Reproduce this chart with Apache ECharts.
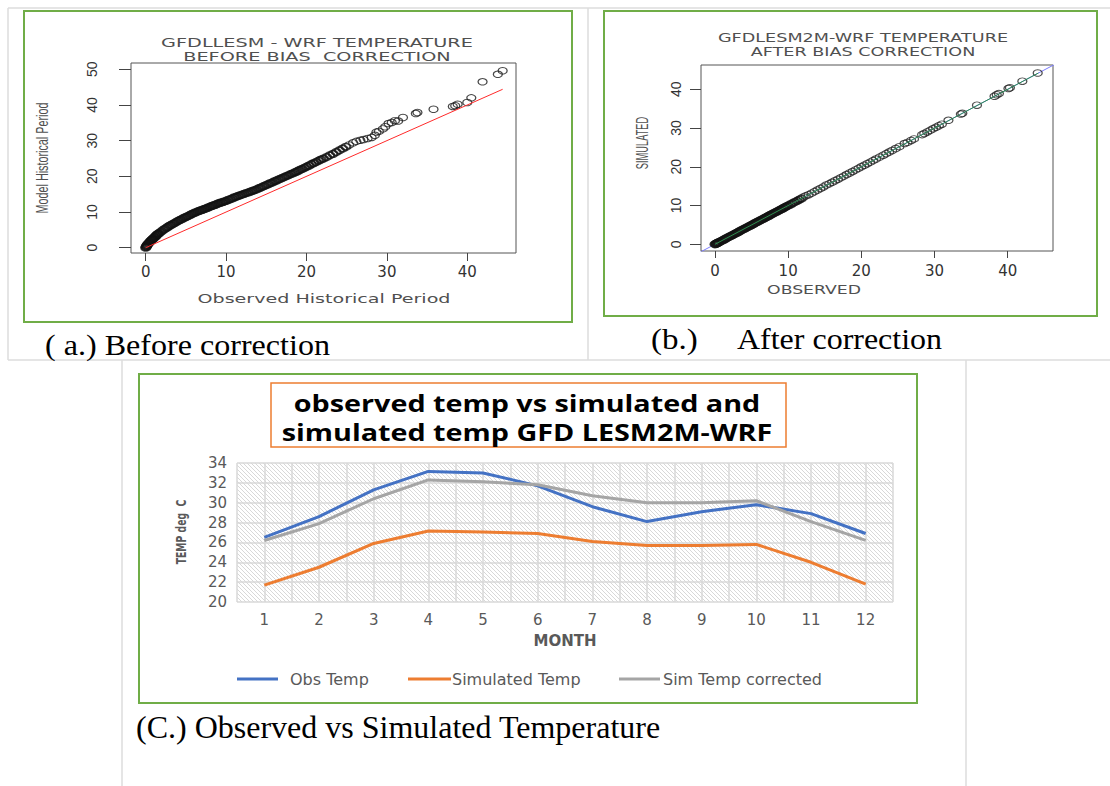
<!DOCTYPE html>
<html>
<head>
<meta charset="utf-8">
<title>Temperature bias correction</title>
<script src="https://cdn.jsdelivr.net/npm/echarts@6/dist/echarts.min.js"></script>
<style>
  html, body { margin: 0; padding: 0; background: #ffffff; }
  #main { width: 1110px; height: 786px; }
</style>
</head>
<body>
<div id="main"></div>
<script>
// ---------- (a) Q-Q pairs before bias correction: [observed, model] ----------
const beforePairs = [
  [0,0],[0.05,0.2],[0.1,0.4],[0.15,0.6],[0.2,0.8],[0.3,1.1],[0.4,1.3],[0.5,1.6],[0.6,1.9],[0.7,2.1],
  [0.8,2.3],[0.9,2.5],[1.0,2.7],[1.1,2.9],[1.2,3.1],[1.3,3.4],[1.4,3.6],[1.5,3.8],[1.6,4.0],[1.8,4.3],
  [2.0,4.6],[2.2,5.0],[2.4,5.3],[2.6,5.6],[2.8,5.9],[3.0,6.2],[3.2,6.4],[3.4,6.7],[3.6,6.9],[3.8,7.2],
  [4.0,7.5],[4.2,7.7],[4.4,7.9],[4.6,8.2],[4.8,8.4],[5.0,8.6],[5.2,8.8],[5.4,9.0],[5.6,9.3],[5.8,9.5],
  [6.0,9.7],[6.2,9.9],[6.4,10.1],[6.6,10.3],[6.8,10.4],[7.0,10.6],[7.2,10.8],[7.4,10.9],[7.6,11.1],[7.8,11.3],
  [8.0,11.5],[8.2,11.7],[8.4,11.8],[8.6,12.0],[8.8,12.2],[9.0,12.4],[9.2,12.5],[9.4,12.7],[9.6,12.8],[9.8,13.0],
  [10.0,13.1],[10.25,13.4],[10.5,13.6],[10.75,13.8],[11.0,14.1],[11.25,14.3],[11.5,14.5],[11.75,14.7],[12.0,14.9],[12.25,15.1],
  [12.5,15.3],[12.75,15.5],[13.0,15.7],[13.25,15.9],[13.5,16.1],[13.75,16.3],[14.0,16.6],[14.25,16.8],[14.5,17.1],[14.75,17.3],
  [15.0,17.6],[15.25,17.8],[15.5,18.1],[15.75,18.3],[16.0,18.6],[16.25,18.8],[16.5,19.1],[16.75,19.3],[17.0,19.6],[17.25,19.8],
  [17.5,20.1],[17.75,20.3],[18.0,20.6],[18.25,20.8],[18.5,21.1],[18.75,21.3],[19.0,21.6],[19.25,21.9],[19.5,22.1],[19.75,22.4],
  [20.0,22.7],[20.3,23.0],[20.6,23.4],[20.9,23.7],[21.2,24.0],[21.5,24.4],[21.8,24.7],[22.1,25.0],[22.5,25.4],[22.9,25.9],
  [23.3,26.3],[23.7,26.8],[24.1,27.3],[24.5,27.8],[24.9,28.3],[25.3,28.8],[25.8,29.4],[26.2,29.8],[26.7,30.1],[27.1,30.3],
  [27.6,30.6],[28.1,30.9],[28.5,31.5],[28.7,32.4],[29.0,32.6],[29.5,33.3],[29.8,33.9],[30.2,34.8],[30.6,35.1],[31.0,35.6],
  [31.4,35.5],[32.0,36.5],[33.6,37.6],[33.8,37.9],[35.8,38.8],[38.2,39.6],[38.5,39.8],[38.8,40.2],[40.0,40.7],[40.5,42.0],
  [41.9,46.5],[43.8,48.6],[44.4,49.6]
];
// 1:1 reference segment drawn in panel (a)
const oneToOneA = [0, 44.4];

// ---------- (b) Q-Q pairs after bias correction: [observed, simulated] ----------
const afterPairs = [
  [0,0],[0.1,0.1],[0.2,0.2],[0.3,0.3],[0.4,0.4],[0.5,0.5],[0.6,0.6],[0.8,0.8],[1.0,1.0],[1.2,1.2],
  [1.4,1.4],[1.6,1.6],[1.8,1.8],[2.0,2.0],[2.2,2.2],[2.4,2.4],[2.6,2.6],[2.8,2.8],[3.0,3.0],[3.2,3.2],
  [3.4,3.4],[3.6,3.6],[3.8,3.8],[4.0,4.0],[4.2,4.2],[4.4,4.4],[4.6,4.6],[4.8,4.8],[5.0,5.0],[5.2,5.2],
  [5.4,5.4],[5.6,5.6],[5.8,5.8],[6.0,6.0],[6.2,6.2],[6.4,6.4],[6.6,6.6],[6.8,6.8],[7.0,7.0],[7.2,7.2],
  [7.4,7.4],[7.6,7.6],[7.8,7.8],[8.0,8.0],[8.2,8.2],[8.4,8.4],[8.6,8.6],[8.8,8.8],[9.0,9.0],[9.2,9.2],
  [9.4,9.4],[9.6,9.6],[9.8,9.8],[10.0,10.0],[10.3,10.3],[10.6,10.6],[10.9,10.9],[11.2,11.2],[11.5,11.5],[11.8,11.8],
  [12.1,12.2],[12.4,12.5],[12.8,12.8],[13.2,13.2],[13.6,13.6],[14.0,14.0],[14.4,14.4],[14.8,14.8],[15.2,15.3],[15.6,15.6],
  [16.0,16.0],[16.4,16.4],[16.8,16.8],[17.2,17.2],[17.6,17.6],[18.0,18.0],[18.4,18.4],[18.8,18.8],[19.2,19.2],[19.6,19.6],
  [20.0,20.0],[20.4,20.4],[20.8,20.8],[21.2,21.2],[21.6,21.6],[22.0,22.0],[22.5,22.5],[23.0,23.0],[23.4,23.4],[23.8,23.8],
  [24.2,24.2],[24.7,24.7],[25.2,25.2],[25.9,26.0],[26.3,26.3],[26.8,26.8],[27.2,27.2],[28.3,28.3],[28.6,28.6],[29.0,29.0],
  [29.4,29.4],[29.8,29.8],[30.2,30.2],[30.6,30.6],[31.0,31.0],[31.9,32.0],[33.6,33.6],[33.8,33.8],[35.8,35.9],[38.2,38.2],
  [38.5,38.6],[38.8,38.9],[40.1,40.2],[40.3,40.4],[42.0,42.1],[44.1,44.2]
];
// fitted line and full-width 1:1 line in panel (b)
const fitLineB = [0, 44.2];
const oneToOneB = [-5, 50];

// tick values of the two Q-Q panels
const ticksAx = [0, 10, 20, 30, 40];
const ticksAy = [0, 10, 20, 30, 40, 50];
const ticksBx = [0, 10, 20, 30, 40];
const ticksBy = [0, 10, 20, 30, 40];

// where the overlapping, heavily inked part of each Q-Q cloud ends (observed value)
const denseEndA = 25;
const denseEndB = 12;

// ---------- (c) monthly temperatures, deg C ----------
const months = ['1','2','3','4','5','6','7','8','9','10','11','12'];
const obsTemp = [26.5, 28.6, 31.3, 33.15, 33.0, 31.7, 29.6, 28.1, 29.1, 29.8, 28.9, 26.9];
const simTemp = [21.7, 23.5, 25.9, 27.15, 27.05, 26.9, 26.1, 25.7, 25.7, 25.8, 24.0, 21.8];
const simTempCorrected = [26.2, 27.9, 30.4, 32.3, 32.1, 31.8, 30.7, 30.0, 30.0, 30.2, 28.1, 26.2];

// diagonal hatch used as the plot-area fill of panel (c)
function hatchTile() {
  const c = document.createElement('canvas');
  c.width = 4; c.height = 4;
  const g = c.getContext('2d');
  g.strokeStyle = '#d8d8d8';
  g.lineWidth = 1;
  g.beginPath();
  g.moveTo(-1, -1); g.lineTo(5, 5);
  g.moveTo(-1, 3); g.lineTo(1, 5);
  g.moveTo(3, -1); g.lineTo(5, 1);
  g.stroke();
  return c;
}
const hatch = { image: hatchTile(), repeat: 'repeat', imageWidth: 4, imageHeight: 4 };

const chart = echarts.init(document.getElementById('main'), null, { renderer: 'svg', width: 1110, height: 786 });

const R_TEXT = '#505050';
const XL_TEXT = '#595959';

function txt(x, y, text, font, fill, scaleX, align, rotation) {
  return {
    type: 'text', x: x, y: y, scaleX: scaleX || 1, rotation: rotation || 0, silent: true,
    style: {
      text: text, font: font, fill: fill,
      textAlign: align || 'center', align: align || 'center',
      textVerticalAlign: 'middle', verticalAlign: 'middle'
    }
  };
}
function hline(x1, y1, x2, y2, color, w) {
  return { type: 'line', silent: true, shape: { x1: x1, y1: y1, x2: x2, y2: y2 },
           style: { stroke: color, lineWidth: w } };
}
function frame(x, y, w, h, color, lw, fill) {
  return { type: 'rect', silent: true, shape: { x: x, y: y, width: w, height: h },
           style: { stroke: color, lineWidth: lw, fill: fill || 'none' } };
}

function rXAxis(grid, min, max, ticks, margin, tickLen) {
  return {
    gridIndex: grid, type: 'value', min: min, max: max,
    axisLine: { show: false, onZero: false },
    axisTick: { show: true, customValues: ticks, length: tickLen, lineStyle: { color: '#444', width: 1 } },
    axisLabel: { customValues: ticks, margin: margin, color: '#333', fontFamily: 'DejaVu Sans', fontSize: 15 },
    splitLine: { show: false }
  };
}
function rYAxis(grid, min, max, ticks, margin, tickLen) {
  return {
    gridIndex: grid, type: 'value', min: min, max: max,
    axisLine: { show: false, onZero: false },
    axisTick: { show: true, customValues: ticks, length: tickLen, lineStyle: { color: '#444', width: 1 } },
    axisLabel: { customValues: ticks, rotate: 90, margin: margin, color: '#333',
                 fontFamily: 'Liberation Sans', fontSize: 14 },
    splitLine: { show: false }
  };
}
function qqScatter(axis, data, width, color) {
  return {
    type: 'scatter', xAxisIndex: axis, yAxisIndex: axis, data: data,
    symbol: 'circle', symbolSize: [9, 6.5], silent: true, z: 2,
    itemStyle: { color: 'rgba(0,0,0,0)', borderColor: color, borderWidth: width }
  };
}

const option = {
  animation: false,
  backgroundColor: '#ffffff',
  grid: [
    { left: 131, top: 63, width: 385, height: 190, show: true, borderColor: '#555', borderWidth: 1, backgroundColor: 'transparent' },
    { left: 701, top: 65, width: 352, height: 186, show: true, borderColor: '#555', borderWidth: 1, backgroundColor: 'transparent' },
    { left: 237, top: 463, width: 656, height: 139, show: true, borderWidth: 0, backgroundColor: hatch }
  ],
  xAxis: [
    rXAxis(0, -1.83, 46.06, ticksAx, 11, 8),
    rXAxis(1, -1.91, 46.19, ticksBx, 12, 7),
    {
      gridIndex: 2, type: 'category', data: months, boundaryGap: true,
      axisLine: { show: false }, axisTick: { show: false },
      axisLabel: { color: XL_TEXT, fontFamily: 'DejaVu Sans', fontSize: 15, margin: 10 },
      splitLine: { show: false },
      name: 'MONTH', nameLocation: 'middle', nameGap: 31,
      nameTextStyle: { color: XL_TEXT, fontFamily: 'DejaVu Sans', fontWeight: 'bold', fontSize: 15 }
    },
    {
      // half-category gridlines of panel (c)
      gridIndex: 2, type: 'value', position: 'top', min: 0.5, max: 12.5, interval: 0.5,
      axisLine: { show: false }, axisTick: { show: false }, axisLabel: { show: false },
      splitLine: { show: true, lineStyle: { color: '#d9d9d9', width: 1.5 } }
    }
  ],
  yAxis: [
    rYAxis(0, -1.49, 51.77, ticksAy, 32, 12),
    rYAxis(1, -1.73, 46.27, ticksBy, 18, 11),
    {
      gridIndex: 2, type: 'value', min: 20, max: 34, interval: 2,
      axisLine: { show: false }, axisTick: { show: false },
      axisLabel: { color: XL_TEXT, fontFamily: 'DejaVu Sans', fontSize: 15, margin: 10 },
      splitLine: { show: true, lineStyle: { color: '#d9d9d9', width: 1.5 } }
    }
  ],
  legend: [
    { left: 237, top: 671, padding: 0, icon: 'rect', itemWidth: 41, itemHeight: 3, data: ['Obs Temp'],
      textStyle: { color: XL_TEXT, fontFamily: 'DejaVu Sans', fontSize: 16, padding: [0, 0, 0, 7] } },
    { left: 408, top: 671, padding: 0, icon: 'rect', itemWidth: 43, itemHeight: 3, data: ['Simulated Temp'],
      textStyle: { color: XL_TEXT, fontFamily: 'DejaVu Sans', fontSize: 16, padding: [0, 0, 0, -4] } },
    { left: 619, top: 671, padding: 0, icon: 'rect', itemWidth: 41, itemHeight: 3, data: ['Sim Temp corrected'],
      textStyle: { color: XL_TEXT, fontFamily: 'DejaVu Sans', fontSize: 16, padding: [0, 0, 0, -2] } }
  ],
  series: [
    qqScatter(0, beforePairs.filter(p => p[0] <= denseEndA), 1.9, '#111'),
    qqScatter(0, beforePairs.filter(p => p[0] > denseEndA), 1.1, '#1a1a1a'),
    {
      type: 'line', xAxisIndex: 0, yAxisIndex: 0, data: oneToOneA.map(v => [v, v]),
      symbol: 'none', silent: true, lineStyle: { color: '#ff2a2a', width: 1 }, z: 3
    },
    {
      type: 'line', xAxisIndex: 1, yAxisIndex: 1, data: oneToOneB.map(v => [v, v]),
      symbol: 'none', silent: true, clip: true, lineStyle: { color: '#7b7bff', width: 1 }, z: 1
    },
    qqScatter(1, afterPairs.filter(p => p[0] <= denseEndB), 1.9, '#111'),
    qqScatter(1, afterPairs.filter(p => p[0] > denseEndB), 1.1, '#222'),
    {
      type: 'line', xAxisIndex: 1, yAxisIndex: 1, data: fitLineB.map(v => [v, v]),
      symbol: 'none', silent: true, lineStyle: { color: '#2f8f4f', width: 1 }, z: 3
    },
    {
      name: 'Obs Temp', type: 'line', xAxisIndex: 2, yAxisIndex: 2, data: obsTemp,
      symbol: 'none', color: '#4472C4', lineStyle: { width: 3, color: '#4472C4' }
    },
    {
      name: 'Simulated Temp', type: 'line', xAxisIndex: 2, yAxisIndex: 2, data: simTemp,
      symbol: 'none', color: '#ED7D31', lineStyle: { width: 3, color: '#ED7D31' }
    },
    {
      name: 'Sim Temp corrected', type: 'line', xAxisIndex: 2, yAxisIndex: 2, data: simTempCorrected,
      symbol: 'none', color: '#A5A5A5', lineStyle: { width: 3, color: '#A5A5A5' }
    }
  ],
  graphic: [
    // page table rules
    hline(8, 8, 1110, 8, '#dcdcdc', 1.5),
    hline(8, 8, 8, 360, '#dcdcdc', 1.5),
    hline(588, 8, 588, 360, '#dcdcdc', 1.5),
    hline(8, 360, 1110, 360, '#dcdcdc', 1.5),
    hline(122, 360, 122, 786, '#dcdcdc', 1.5),
    hline(966, 360, 966, 786, '#dcdcdc', 1.5),
    // panel frames
    frame(24, 11, 548, 311, '#70AD47', 2),
    frame(604, 11, 493, 305, '#70AD47', 2),
    frame(139, 374, 778, 329, '#70AD47', 2),
    frame(271, 383, 515, 64, '#ED7D31', 1.5, '#ffffff'),
    // panel (a) titles
    txt(317, 43, 'GFDLLESM - WRF TEMPERATURE', '12.5px "DejaVu Sans"', R_TEXT, 1.54),
    txt(317, 57, 'BEFORE BIAS  CORRECTION', '12.5px "DejaVu Sans"', R_TEXT, 1.54),
    txt(324, 299, 'Observed Historical Period', '13px "DejaVu Sans"', R_TEXT, 1.47),
    txt(43, 158, 'Model Historical Period', '16px "Liberation Sans"', R_TEXT, 0.675, 'center', Math.PI / 2),
    // panel (b) titles
    txt(863, 38, 'GFDLESM2M-WRF TEMPERATURE', '12.5px "DejaVu Sans"', R_TEXT, 1.41),
    txt(863, 52, 'AFTER BIAS CORRECTION', '12.5px "DejaVu Sans"', R_TEXT, 1.41),
    txt(814, 290, 'OBSERVED', '12.5px "DejaVu Sans"', R_TEXT, 1.38),
    txt(642, 143, 'SIMULATED', '16px "Liberation Sans"', R_TEXT, 0.58, 'center', Math.PI / 2),
    // panel (c) title and value-axis name
    txt(527, 403, 'observed temp vs simulated and', 'bold 23px "Open Sans"', '#000000', 1.25),
    txt(527, 432, 'simulated temp GFD LESM2M-WRF', 'bold 23px "Open Sans"', '#000000', 1.25),
    txt(181, 532, 'TEMP deg  C', 'bold 14px "DejaVu Sans"', XL_TEXT, 0.66, 'center', Math.PI / 2),
    // captions
    txt(45, 345, '( a.) Before correction', '30px "Liberation Serif"', '#000000', 1.07, 'left'),
    txt(651, 339, '(b.)', '30px "Liberation Serif"', '#000000', 1.1, 'left'),
    txt(737, 339, 'After correction', '30px "Liberation Serif"', '#000000', 1.066, 'left'),
    txt(136, 727, '(C.) Observed vs Simulated Temperature', '32px "Liberation Serif"', '#000000', 1, 'left')
  ]
};

chart.setOption(option);
</script>
</body>
</html>
